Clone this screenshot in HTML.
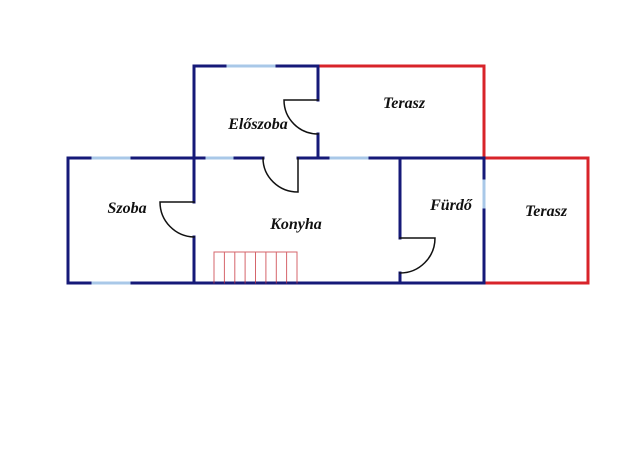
<!DOCTYPE html>
<html><head><meta charset="utf-8"><style>html,body{margin:0;padding:0;background:#fff;width:640px;height:456px;overflow:hidden}</style></head>
<body>
<svg width="640" height="456" viewBox="0 0 640 456" xmlns="http://www.w3.org/2000/svg">
<g fill="none" stroke-linecap="square">
<g stroke="#d8232a" stroke-width="3">
<polyline points="318,66 484,66 484,158"/>
<polyline points="484,158 588,158 588,283 484,283"/>
</g>
<g stroke="#a9c8e8" stroke-width="3" stroke-linecap="butt">
<line x1="225" y1="66" x2="277" y2="66"/>
<line x1="90" y1="158" x2="132" y2="158"/>
<line x1="204" y1="158" x2="235" y2="158"/>
<line x1="328" y1="158" x2="370" y2="158"/>
<line x1="90" y1="283" x2="132" y2="283"/>
<line x1="484" y1="178" x2="484" y2="210"/>
</g>
<g stroke="#161a78" stroke-width="3">
<polyline points="225,66 194,66 194,202"/>
<line x1="194" y1="237" x2="194" y2="283"/>
<polyline points="277,66 318,66 318,100"/>
<line x1="318" y1="134" x2="318" y2="158"/>
<polyline points="90,158 68,158 68,283 90,283"/>
<line x1="132" y1="158" x2="204" y2="158"/>
<line x1="235" y1="158" x2="263" y2="158"/>
<line x1="298" y1="158" x2="328" y2="158"/>
<line x1="370" y1="158" x2="484" y2="158"/>
<line x1="132" y1="283" x2="484" y2="283"/>
<line x1="484" y1="158" x2="484" y2="178"/>
<line x1="484" y1="210" x2="484" y2="283"/>
<line x1="400" y1="158" x2="400" y2="238"/>
<line x1="400" y1="273" x2="400" y2="283"/>
</g>
<g stroke="#111" stroke-width="1.5">
<path d="M318,100 H284 A34,34 0 0 0 318,134"/>
<path d="M194,202 H160 A35,35 0 0 0 194,237"/>
<path d="M298,158 V192 A35,34 0 0 1 263,158"/>
<path d="M400,238 H435 A35,35 0 0 1 400,273"/>
</g>
<g stroke="#c8323a" stroke-width="1" opacity="0.75">
<polyline points="214,283 214,252 297,252 297,283"/>
<line x1="224.4" y1="252" x2="224.4" y2="283"/>
<line x1="234.8" y1="252" x2="234.8" y2="283"/>
<line x1="245.1" y1="252" x2="245.1" y2="283"/>
<line x1="255.5" y1="252" x2="255.5" y2="283"/>
<line x1="265.9" y1="252" x2="265.9" y2="283"/>
<line x1="276.3" y1="252" x2="276.3" y2="283"/>
<line x1="286.6" y1="252" x2="286.6" y2="283"/>
</g>
</g>
<g font-family="Liberation Serif, serif" font-weight="bold" font-style="italic" font-size="16" fill="#111" text-anchor="middle">
<text x="258" y="129">Előszoba</text>
<text x="127" y="213">Szoba</text>
<text x="296" y="229">Konyha</text>
<text x="404" y="108">Terasz</text>
<text x="451" y="210">Fürdő</text>
<text x="546" y="216">Terasz</text>
</g>
</svg>
</body></html>
